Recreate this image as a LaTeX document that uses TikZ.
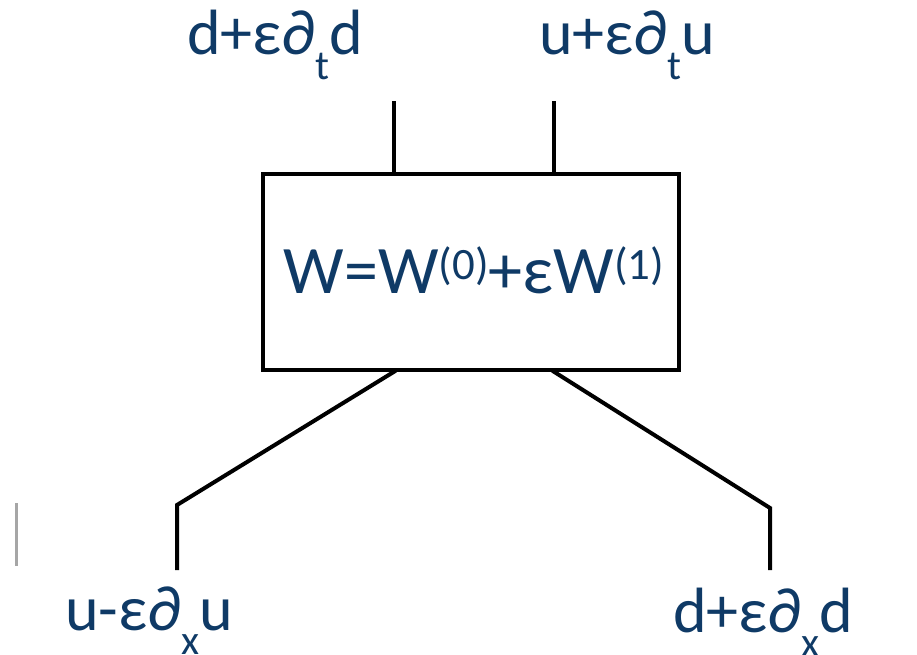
\documentclass[tikz,border=0pt]{standalone}
\usepackage{fontspec}
\setmainfont{Carlito}
\usetikzlibrary{positioning}

\definecolor{labelblue}{HTML}{0F3A66}
\newcommand{\lowidx}[1]{\raisebox{-0.39em}{\scalebox{0.65}{#1}}}
\newcommand{\highidx}[1]{\raisebox{0.2em}{\scalebox{0.66}{#1}}}

\tikzset{
	wire/.style={line width=4pt, line cap=rect, black},
	wbox/.style={draw, line width=3.5pt, minimum width=416pt, minimum height=196pt,
		inner sep=0pt},
	formula/.style={inner sep=0pt, anchor=base, text=labelblue,
		font=\fontsize{68}{80}\selectfont},
	port/.style={inner sep=0pt, anchor=base west, text=labelblue},
}

\begin{document}
\begin{tikzpicture}[x=1pt,y=-1pt,font=\fontsize{64}{76}\selectfont]
	\useasboundingbox (0,0) rectangle (917,655);
	% the vertex
	\node[wbox] (w) at (471,272) {};
	\node[formula] (wf) at (474,293) {W=W\highidx{(0)}+εW\highidx{(1)}};
	% legs
	\coordinate (nw) at (394,103);
	\coordinate (ne) at (554,103);
	\coordinate (swb) at (177,505);
	\coordinate (sw) at (177,568);
	\coordinate (seb) at (770,508);
	\coordinate (se) at (770,568);
	\draw[wire] (nw |- w.north) -- (nw);
	\draw[wire] (ne |- w.north) -- (ne);
	\draw[wire, line join=miter] (nw |- w.south) -- (swb) -- (sw);
	\draw[wire, line join=miter] (ne |- w.south) -- (seb) -- (se);
	% fields on the legs
	\node[port] (dt) at (187,55) {d+ε∂\lowidx{t}d};
	\node[port] (ut) at (539,55) {u+ε∂\lowidx{t}u};
	\node[port] (ux) at (65,630) {u-ε∂\lowidx{x}u};
	\node[port] (dx) at (673,632) {d+ε∂\lowidx{x}d};
	% stray tick
	\coordinate (tickA) at (16,503);
	\coordinate (tickB) at (16,566);
	\draw[line width=3pt, black!35] (tickA) -- (tickB);
\end{tikzpicture}
\end{document}
